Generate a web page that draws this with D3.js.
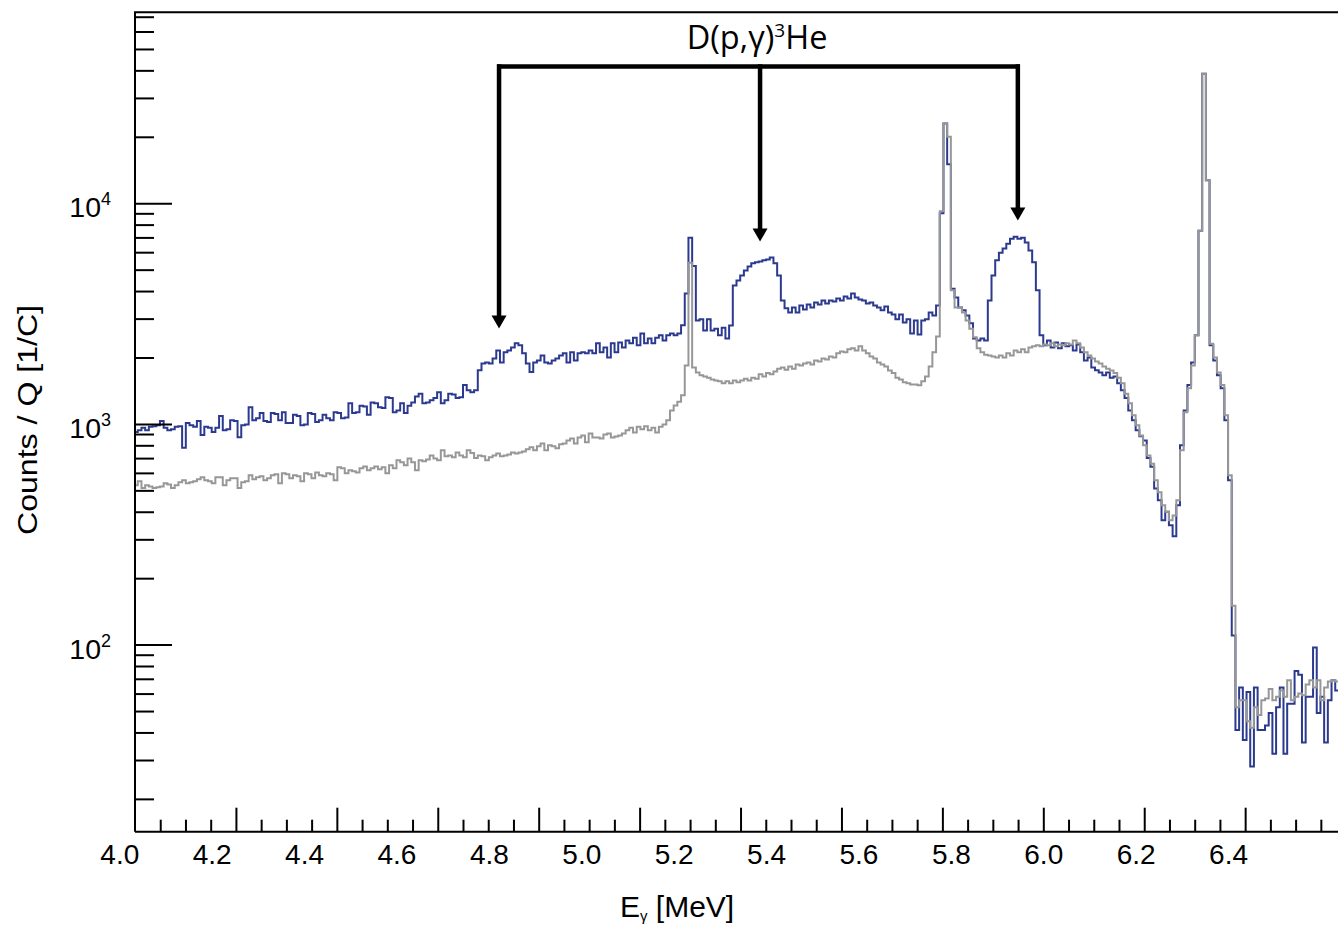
<!DOCTYPE html>
<html>
<head>
<meta charset="utf-8">
<script src="https://cdn.jsdelivr.net/npm/d3@7"></script>
<style>
body { margin: 0; background: #fff; }
text { font-family: "Liberation Sans", Arial, Helvetica, sans-serif; fill: #000; }
</style>
</head>
<body>
<div id="chart"></div>
<script>
var width = 1338, height = 927;
var frame = {left: 135, right: 1338, top: 12.3, bottom: 831.7};

// histogram binning (MeV)
var binStart = 4.032;
var binWidth = 0.008;

// blue spectrum, counts / Q, one value per bin
var targetCounts = [
  920, 935, 960, 935, 970, 975, 985, 1030, 960, 935,          // 4.03
  945, 970, 975, 780, 1010, 985, 970, 1030, 890, 970,
  960, 920, 960, 1085, 935, 945, 1040, 1030, 870, 985,        // 4.2
  995, 1190, 1040, 1060, 1120, 1030, 1020, 1120, 1110, 1040,
  1130, 1010, 1010, 1100, 1085, 985, 995, 1120, 1110, 1020,   // 4.35
  1040, 1100, 1060, 1040, 1130, 1120, 1060, 1070, 1240, 1120,
  1130, 1210, 1200, 1100, 1250, 1240, 1190, 1180, 1320, 1310, // 4.51
  1130, 1150, 1240, 1120, 1210, 1250, 1330, 1370, 1240, 1250,
  1280, 1310, 1390, 1240, 1280, 1370, 1360, 1310, 1320, 1500, // 4.67
  1420, 1390, 1420, 1750, 1880, 1900, 1880, 1980, 2150, 1900,
  2110, 2150, 2220, 2320, 2270, 2090, 1880, 1720, 1900, 1940, // 4.83
  2040, 1900, 1880, 1940, 1980, 2040, 2090, 1900, 2110, 1940,
  2090, 2110, 2090, 2150, 2090, 2320, 2110, 2220, 2000, 2320, // 4.99
  2110, 2340, 2220, 2390, 2320, 2460, 2270, 2570, 2320, 2440,
  2320, 2460, 2520, 2390, 2520, 2570, 2520, 2570, 2800, 3900, // 5.15
  6980, 5200, 2940, 2980, 2650, 2980, 2650, 2700, 2520, 2730,
  2440, 2790, 4240, 4470, 4710, 4950, 5170, 5340, 5400, 5450, // 5.31
  5510, 5560, 5680, 5340, 4710, 3620, 3340, 3200, 3370, 3200,
  3440, 3300, 3480, 3370, 3550, 3480, 3620, 3510, 3620, 3590, // 5.47
  3700, 3620, 3780, 3700, 3900, 3740, 3660, 3620, 3510, 3550,
  3440, 3370, 3270, 3400, 3200, 3130, 2980, 3130, 2880, 2980, // 5.63
  2570, 2940, 2540, 2940, 2980, 3200, 3100, 3440, 9000, 23000,
  15000, 4100, 3740, 3370, 3270, 3100, 2860, 2440, 2390, 2440, // 5.79
  2390, 3620, 4710, 5510, 5960, 6240, 6560, 6900, 7050, 6900,
  6970, 6640, 6110, 5400, 4030, 2520, 2270, 2390, 2220, 2340, // 5.95
  2200, 2320, 2250, 2270, 2150, 2290, 2110, 1940, 2000, 1800,
  1750, 1710, 1660, 1710, 1620, 1640, 1530, 1420, 1310, 1150, // 6.11
  1040, 935, 880, 842, 700, 640, 510, 451, 366, 400,
  347, 310, 428, 800, 1150, 1500, 1900, 2520, 7500, 38650,    // 6.27
  12700, 2270, 1940, 1660, 1450, 1040, 555, 110, 41, 64,
  37, 61, 28, 64, 41, 41, 43, 49, 32, 52,                     // 6.43
  64, 32, 54, 54, 76, 73, 36, 58, 58, 97,
  49, 58, 36, 56, 69, 62
];

// grey spectrum, counts / Q, same binning
var backgroundCounts = [
  527, 550, 512, 527, 520, 512, 517, 520, 538, 532,
  512, 527, 544, 555, 538, 544, 550, 561, 573, 555,
  550, 538, 573, 573, 527, 555, 567, 567, 512, 544,
  550, 585, 561, 573, 579, 555, 567, 585, 591, 538,
  597, 591, 567, 585, 579, 550, 597, 591, 567, 603,
  585, 579, 597, 591, 555, 636, 630, 597, 616, 610,
  603, 630, 642, 616, 630, 642, 623, 636, 597, 649,
  630, 684, 670, 649, 697, 670, 616, 684, 677, 690,
  720, 697, 684, 759, 714, 720, 707, 743, 720, 707,
  759, 739, 700, 720, 714, 684, 707, 720, 734, 714,
  720, 727, 743, 734, 743, 750, 767, 783, 759, 792,
  816, 759, 800, 792, 775, 808, 816, 842, 859, 816,
  868, 887, 825, 906, 868, 868, 859, 896, 906, 868,
  878, 887, 906, 935, 960, 915, 970, 945, 975, 935,
  960, 915, 970, 995, 1038, 1151, 1213, 1260, 1350, 1840,
  5380, 1800, 1710, 1660, 1640, 1620, 1590, 1574, 1560, 1530,
  1560, 1530, 1574, 1545, 1574, 1600, 1574, 1620, 1600, 1680,
  1640, 1700, 1680, 1730, 1780, 1800, 1760, 1820, 1780, 1860,
  1840, 1880, 1900, 1860, 1940, 1920, 1980, 1960, 2020, 2000,
  2090, 2130, 2110, 2180, 2200, 2150, 2250, 2150, 2090, 2020,
  1980, 1900, 1860, 1820, 1746, 1700, 1620, 1590, 1545, 1530,
  1510, 1510, 1496, 1560, 1640, 1820, 2110, 2490, 9200, 23000,
  20000, 4030, 3370, 3370, 3200, 2940, 2700, 2470, 2200, 2110,
  2060, 2040, 2020, 2000, 2040, 2000, 2090, 2040, 2150, 2110,
  2180, 2110, 2220, 2250, 2270, 2250, 2290, 2270, 2320, 2250,
  2290, 2270, 2320, 2290, 2390, 2320, 2220, 2110, 2040, 1980,
  1920, 1880, 1820, 1780, 1746, 1700, 1620, 1530, 1370, 1240,
  1094, 985, 887, 800, 720, 660, 555, 490, 428, 400,
  366, 385, 451, 759, 1130, 1450, 1840, 2520, 7500, 38650,
  12700, 2310, 2000, 1710, 1500, 1094, 585, 150, 52, 56,
  56, 45, 42, 52, 48, 56, 57, 63, 56, 58,
  62, 58, 69, 56, 58, 60, 59, 66, 69, 64,
  69, 56, 64, 68, 69, 68
];

var xLabels = [4.0, 4.2, 4.4, 4.6, 4.8, 5.0, 5.2, 5.4, 5.6, 5.8, 6.0, 6.2, 6.4];
var yDecades = [100, 1000, 10000];
var yMinors = [20, 30, 40, 50, 60, 70, 80, 90,
  200, 300, 400, 500, 600, 700, 800, 900,
  2000, 3000, 4000, 5000, 6000, 7000, 8000, 9000,
  20000, 30000, 40000, 50000, 60000, 70000];

// D(p,g)3He annotation: arrow energies, arrow tip levels, bracket level
var arrowEnergy = [4.822, 5.387, 5.945];
var arrowTip = [2707, 6707, 8350];
var bracketLevel = 41600;
var labelLevel = 50200;

var svg = d3.select('#chart')
  .append('svg')
  .attr('width', width)
  .attr('height', height);

var x = d3.scaleLinear()
  .domain([4.034, 6.638])
  .range([frame.left, frame.right]);

var y = d3.scaleLog()
  .domain([14.2, 73300])
  .range([frame.bottom, frame.top]);

// the tick marks on the energy axis follow their own divisions
var divisions = d3.scaleLinear()
  .domain([0, 11.92])
  .range([frame.left, frame.right]);
var majorDiv = d3.range(1, 12);
var minorDiv = d3.range(0.25, 11.9, 0.25).filter(function(d){ return d % 1 !== 0; });

svg.append('clipPath').attr('id', 'plot')
  .append('rect')
  .attr('x', frame.left).attr('y', frame.top)
  .attr('width', frame.right - frame.left)
  .attr('height', frame.bottom - frame.top);

function steps(counts){
  var pts = counts.map(function(c, i){ return [binStart + i*binWidth, c]; });
  pts.push([binStart + counts.length*binWidth, counts[counts.length-1]]);
  return pts;
}

var line = d3.line()
  .x(function(d){ return x(d[0]); })
  .y(function(d){ return y(d[1]); })
  .curve(d3.curveStepAfter);

var hist = svg.append('g').attr('clip-path', 'url(#plot)');
hist.append('path')
  .attr('d', line(steps(targetCounts)))
  .attr('fill', 'none')
  .attr('stroke', '#2b3a8f')
  .attr('stroke-width', 2);
hist.append('path')
  .attr('d', line(steps(backgroundCounts)))
  .attr('fill', 'none')
  .attr('stroke', '#979797')
  .attr('stroke-width', 2);

// bottom ticks
function tickGroup(axis){
  var g = svg.append('g')
    .attr('transform', 'translate(0,' + frame.bottom + ')')
    .call(axis);
  g.select('.domain').remove();
  g.selectAll('line').attr('stroke', '#000').attr('stroke-width', 2);
  return g;
}
tickGroup(d3.axisBottom(divisions).tickValues(majorDiv).tickSize(-24).tickFormat(''));
tickGroup(d3.axisBottom(divisions).tickValues(minorDiv).tickSize(-12).tickFormat(''));

var xl = svg.append('g')
  .attr('transform', 'translate(0,' + frame.bottom + ')')
  .call(d3.axisBottom(x).tickValues(xLabels).tickSize(0).tickPadding(12)
    .tickFormat(d3.format('.1f')));
xl.select('.domain').remove();
xl.selectAll('text')
  .style('font-family', '"Liberation Sans", Arial, sans-serif')
  .style('font-size', '28px')
  .attr('fill', '#000');

// left ticks
function leftTicks(values, len){
  var g = svg.append('g')
    .attr('transform', 'translate(' + frame.left + ',0)')
    .call(d3.axisLeft(y).tickValues(values).tickSize(-len).tickFormat(''));
  g.select('.domain').remove();
  g.selectAll('line').attr('stroke', '#000').attr('stroke-width', 2);
}
leftTicks(yDecades, 37);
leftTicks(yMinors, 19);

var yl = svg.append('g').selectAll('text')
  .data(yDecades)
  .enter().append('text')
  .attr('x', 111)
  .attr('y', function(d){ return y(d) + 14; })
  .attr('text-anchor', 'end')
  .style('font-size', '28.5px');
yl.append('tspan').text('10');
yl.append('tspan')
  .attr('dy', -12)
  .style('font-size', '18px')
  .text(function(d){ return Math.round(Math.log10(d)); });

// frame
svg.append('path')
  .attr('d', 'M' + frame.left + ',' + frame.bottom + 'V' + frame.top + 'H' + (frame.right + 2)
    + 'M' + frame.left + ',' + frame.bottom + 'H' + (frame.right + 2))
  .attr('fill', 'none')
  .attr('stroke', '#000')
  .attr('stroke-width', 2);

// axis titles
svg.append('text')
  .attr('transform', 'translate(37,420) rotate(-90)')
  .attr('text-anchor', 'middle')
  .attr('textLength', 230)
  .attr('lengthAdjust', 'spacingAndGlyphs')
  .style('font-size', '28.5px')
  .text('Counts / Q [1/C]');

var xt = svg.append('text')
  .attr('x', 620)
  .attr('y', 917)
  .style('font-size', '30px');
xt.append('tspan').text('E');
xt.append('tspan').attr('dy', 4).style('font-size', '15px').text('γ');
xt.append('tspan').attr('dy', -4).text(' [MeV]');

// annotation
var ann = svg.append('g');
var barY = y(bracketLevel);
ann.append('line')
  .attr('x1', x(arrowEnergy[0]) - 2).attr('x2', x(arrowEnergy[2]) + 2)
  .attr('y1', barY).attr('y2', barY)
  .attr('stroke', '#000').attr('stroke-width', 4.5);
arrowEnergy.forEach(function(e, i){
  var ax = x(e), tip = y(arrowTip[i]);
  ann.append('line')
    .attr('x1', ax).attr('x2', ax)
    .attr('y1', barY - 2.25).attr('y2', tip - 10)
    .attr('stroke', '#000').attr('stroke-width', 4.5);
  ann.append('path')
    .attr('d', 'M' + (ax - 7.5) + ',' + (tip - 13) + 'L' + (ax + 7.5) + ',' + (tip - 13) + 'L' + ax + ',' + tip + 'Z')
    .attr('fill', '#000');
});

var title = ann.append('text')
  .attr('x', x(arrowEnergy[1]) - 3)
  .attr('y', y(labelLevel))
  .attr('text-anchor', 'middle')
  .style('font-family', '"Open Sans", "Noto Sans", sans-serif')
  .style('font-size', '32.5px');
title.append('tspan').text('D(p,γ)');
title.append('tspan').attr('dy', -12).style('font-size', '19px').text('3');
title.append('tspan').attr('dy', 12).text('He');
</script>
</body>
</html>
